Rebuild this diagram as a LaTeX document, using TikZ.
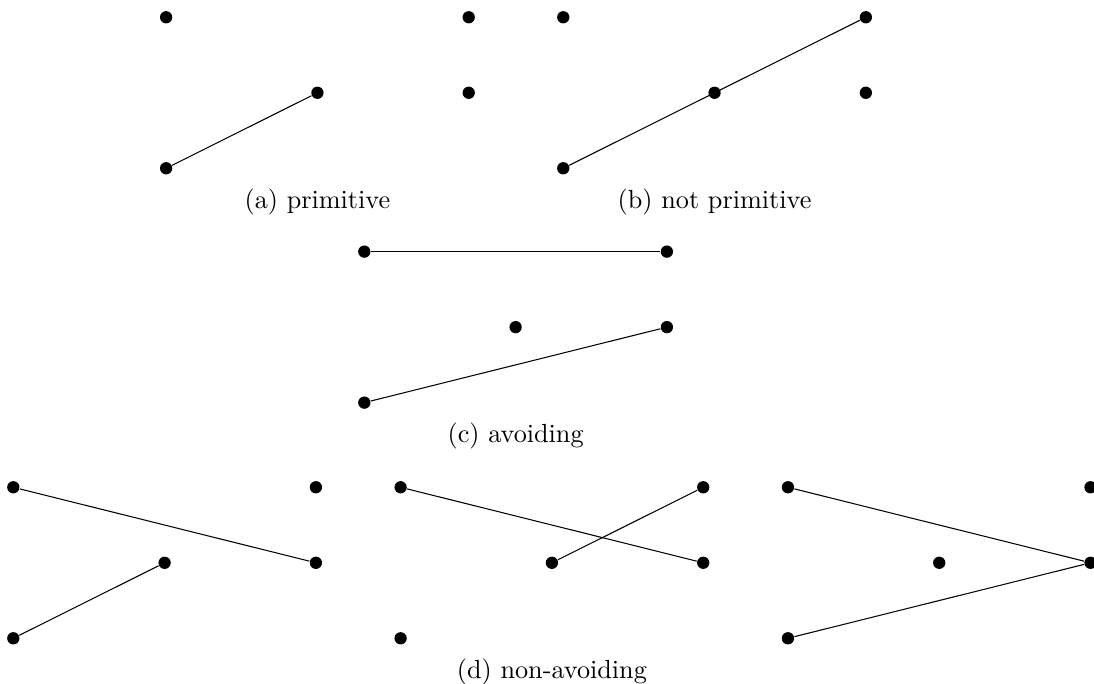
\documentclass[tikz,border=0pt]{standalone}
\usepackage{tikz}
\begin{document}
\begin{tikzpicture}[x=57.75pt, y=28.82pt,
    dot/.style={circle, fill, inner sep=0pt, minimum size=4.7pt},
    caption/.style={anchor=base, yshift=-15.3pt}]
    \useasboundingbox (-0.088,-0.605) rectangle (7.143,8.454);

    % five lattice points in every panel
    \foreach \p/\x/\y in {a/1.01/6.225, b/3.635/6.225, c/2.32/3.121, d/0/0, e/2.56/0, f/5.12/0} {
        \begin{scope}[shift={(\x,\y)}]
            \node[dot] (\p-02) at (0,2) {};
            \node[dot] (\p-22) at (2,2) {};
            \node[dot] (\p-11) at (1,1) {};
            \node[dot] (\p-21) at (2,1) {};
            \node[dot] (\p-00) at (0,0) {};
        \end{scope}
    }

    % (a)
    \draw (a-00) -- (a-11);
    \node[caption] (acap) at (a-00 -| a-11) {(a) primitive};
    % (b)
    \draw (b-00) -- (b-22);
    \node[caption] (bcap) at (b-00 -| b-11) {(b) not primitive};
    % (c)
    \draw (c-02) -- (c-22);
    \draw (c-00) -- (c-21);
    \node[caption] (ccap) at (c-00 -| c-11) {(c) avoiding};
    % (d)
    \draw (d-02) -- (d-21);
    \draw (d-00) -- (d-11);
    \draw (e-02) -- (e-21);
    \draw (e-11) -- (e-22);
    \draw (f-02) -- (f-21);
    \draw (f-00) -- (f-21);
    \node[caption] (dcap) at (e-00 -| e-11) {(d) non-avoiding};
\end{tikzpicture}
\end{document}
